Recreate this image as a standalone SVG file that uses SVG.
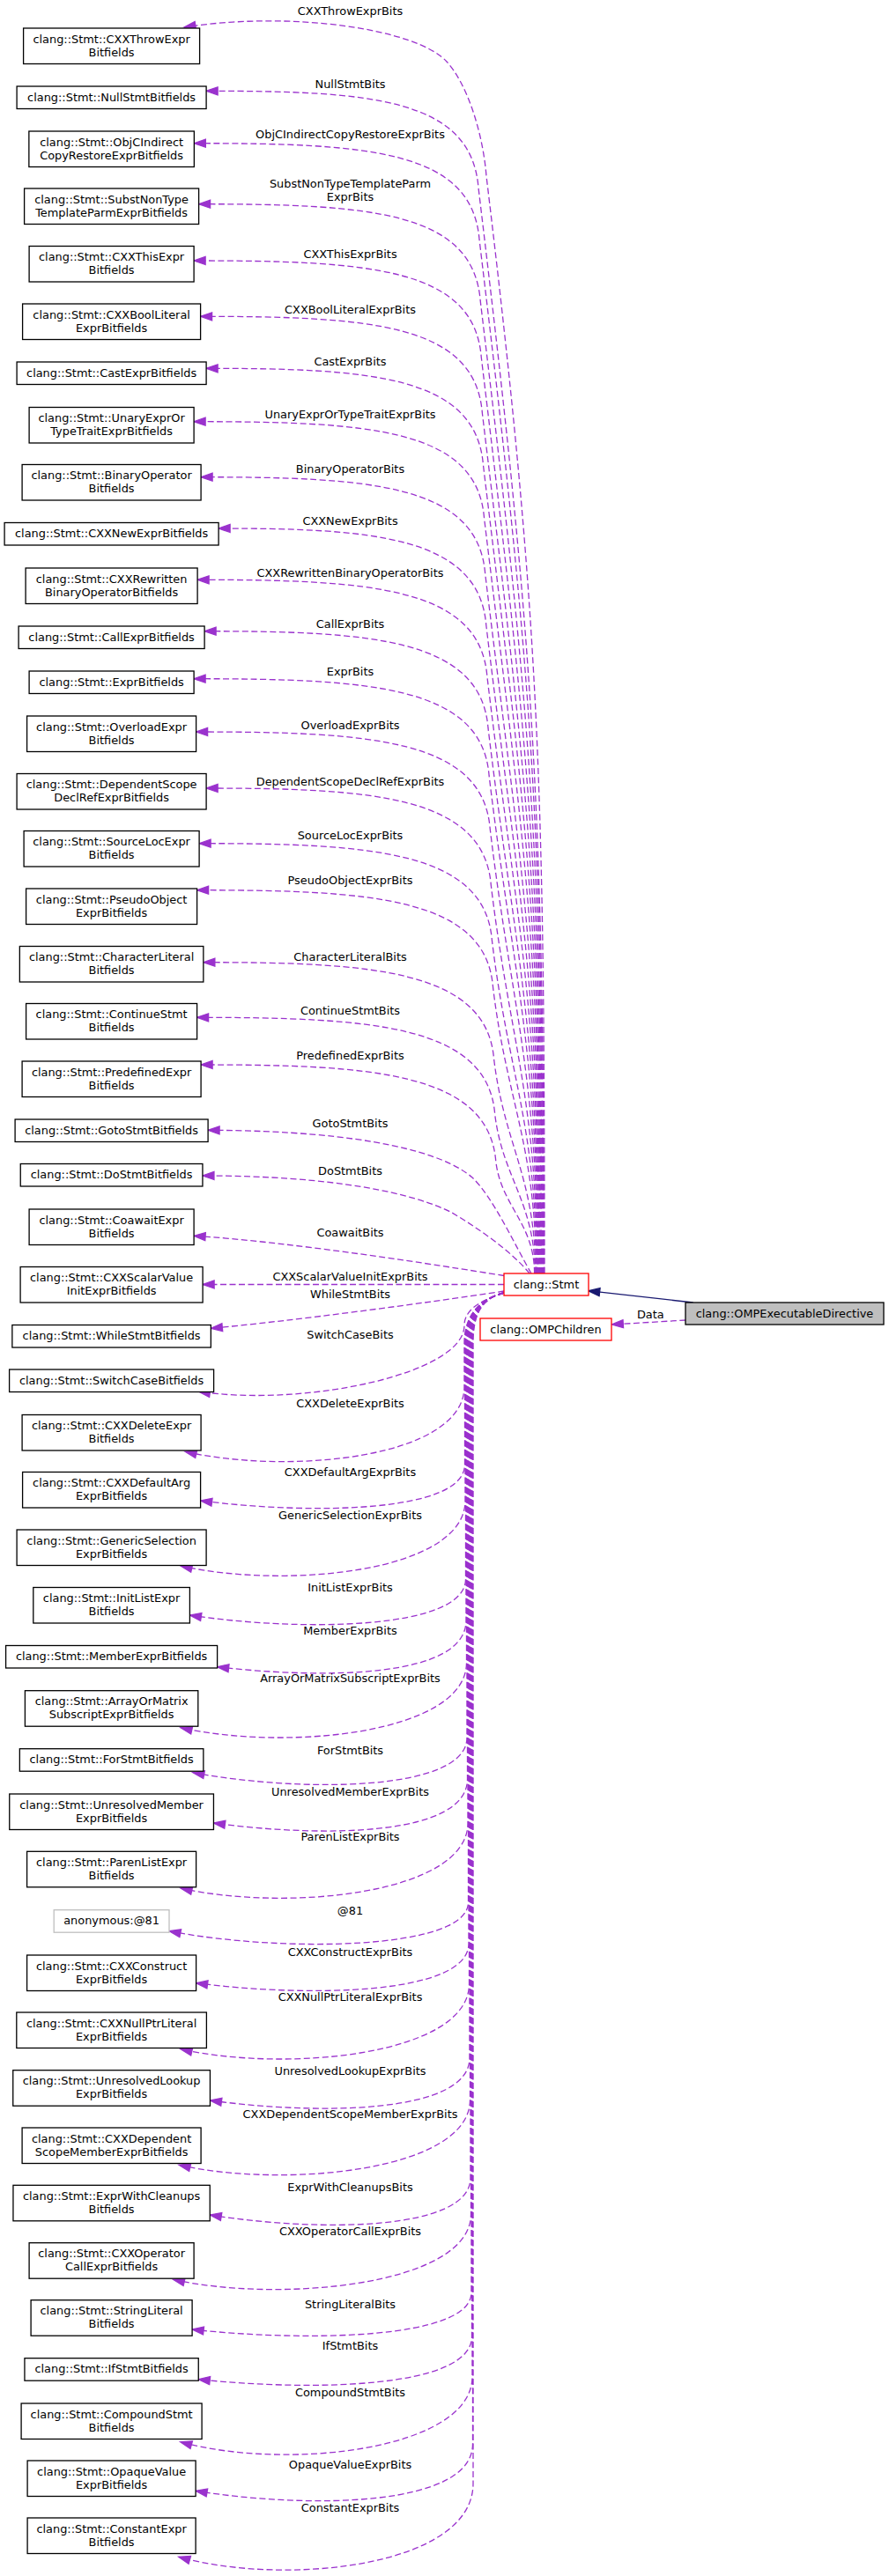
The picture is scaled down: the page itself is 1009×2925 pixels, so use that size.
<svg xmlns="http://www.w3.org/2000/svg" width="1009" height="2925" viewBox="0 0 1009 2925">
<style>
.n rect{fill:#fff;stroke:#000;stroke-width:1.3}
text{font-family:"DejaVu Sans",sans-serif;font-size:12.9px;text-anchor:middle;fill:#000}
.e path{fill:none;stroke:#9a32cd;stroke-width:1.3;stroke-dasharray:7,3.5;marker-end:url(#ap)}
</style>
<defs>
<marker id="ap" markerUnits="userSpaceOnUse" markerWidth="16" markerHeight="12" refX="13" refY="5" orient="auto" overflow="visible"><path d="M0,0.5 L13,5 L0,9.5 z" fill="#9a32cd" stroke="#9a32cd" stroke-width="1.3"/></marker>
<marker id="an" markerUnits="userSpaceOnUse" markerWidth="16" markerHeight="12" refX="13" refY="5" orient="auto" overflow="visible"><path d="M0,0.5 L13,5 L0,9.5 z" fill="#191970" stroke="#191970" stroke-width="1.3"/></marker>
</defs>
<rect x="0" y="0" width="1009" height="2925" fill="#fff"/>
<g id="edges">
<g class="e">
<path d="M618,1446 C618,885 612,698 552,200 C548,150 530,95 507,70 C472.5,32.5 330,12 209,31"/>
<path d="M617.4,1446 C617.4,891.3 602.2,706.4 543,213.3 C535,111.3 420,103.3 234.1,103.3"/>
<path d="M616.8,1446 C616.8,918 600.4,742 544.1,272.7 C536.1,170.7 420,162.7 220.35,162.7"/>
<path d="M616.2,1446 C616.2,949.1 598.2,783.4 545.2,341.7 C537.2,239.7 420,231.7 225.6,231.7"/>
<path d="M615.6,1446 C615.6,978 596.2,822 546.3,406 C538.3,304 420,296 220.1,296"/>
<path d="M615,1446 C615,1006.5 594.3,860 547.4,469.3 C539.4,367.3 420,359.3 227.6,359.3"/>
<path d="M614.4,1446 C614.4,1033 592.5,895.4 548.5,528.3 C540.5,426.3 420,418.3 234.1,418.3"/>
<path d="M613.8,1446 C613.8,1060.2 590.8,931.6 549.6,588.7 C541.6,486.7 420,478.7 220.1,478.7"/>
<path d="M613.2,1446 C613.2,1088.6 588.8,969.4 550.7,651.7 C542.7,549.7 420,541.7 228.1,541.7"/>
<path d="M612.6,1446 C612.6,1114.8 587.1,1004.4 551.8,710 C543.8,608 420,600 248.1,600"/>
<path d="M612,1446 C612,1141 585.4,1039.4 552.9,768.3 C544.9,666.3 420,658.3 224.1,658.3"/>
<path d="M611.4,1446 C611.4,1167.3 583.7,1074.4 554,826.7 C546,724.7 420,716.7 232.1,716.7"/>
<path d="M610.8,1446 C610.8,1191.6 582.2,1106.8 555.1,880.7 C547.1,778.7 420,770.7 220.1,770.7"/>
<path d="M610.2,1446 C610.2,1218.7 580.4,1143 556.2,941 C548.2,839 420,831 222.6,831"/>
<path d="M609.6,1446 C609.6,1247.5 578.5,1181.4 557.3,1005 C549.3,903 420,895 234.1,895"/>
<path d="M609,1446 C609,1275.8 576.6,1219 558.4,1067.7 C550.4,965.7 420,957.7 226.1,957.7"/>
<path d="M608.4,1446 C608.4,1299.6 575.1,1250.8 559.5,1120.7 C551.5,1018.7 420,1010.7 223.6,1010.7"/>
<path d="M607.8,1446 C607.8,1336.5 572.3,1300 560.6,1202.7 C552.6,1100.7 420,1092.7 230.85,1092.7"/>
<path d="M607.2,1446 C607.2,1364.7 570.4,1337.6 561.7,1265.3 C553.7,1163.3 420,1155.3 223.6,1155.3"/>
<path d="M606.6,1446 C606.6,1388.8 568.9,1369.8 562.8,1319 C554.8,1217 420,1209 228.1,1209"/>
<path d="M603,1446 C585,1415 560,1360 536,1337 C505,1310 420,1284 236.1,1283.3"/>
<path d="M601,1446 C580,1420 540,1393 513,1377 C470,1355 380,1335 229.95,1335"/>
<path d="M572,1448.5 C500,1437 330,1410 220.1,1403.3"/>
<path d="M572,1458.5 L230.1,1458.5"/>
<path d="M572,1466 C480,1480 330,1500 239.35,1508.3"/>
<path d="M572,1468 C540,1478 527,1490 527,1505 C527,1560 345,1598 225.4,1580"/>
<path d="M572,1468 C548,1474 527,1490 527,1525 L527,1574.3 C527,1655.3 330,1675.3 210,1648.3"/>
<path d="M572,1468 C548,1474 527.5,1490 527.5,1525 L527.5,1663 C527.5,1718 351.8,1720 227.6,1704"/>
<path d="M572,1468 C548,1474 528,1490 528,1525 L528,1704 C528,1785 325,1805 205,1778"/>
<path d="M572,1468 C548,1474 528.5,1490 528.5,1525 L528.5,1793 C528.5,1851 340.6,1853 215.4,1834"/>
<path d="M572,1468 C548,1474 529,1490 529,1525 L529,1840 C529,1905 371.4,1907 246.6,1892.7"/>
<path d="M572,1468 C548,1474 529.5,1490 529.5,1525 L529.5,1887.7 C529.5,1968.7 325,1988.7 205,1961.7"/>
<path d="M572,1468 C548,1474 530,1490 530,1525 L530,1973 C530,2034 344,2036 218.8,2012.7"/>
<path d="M572,1468 C548,1474 530.5,1490 530.5,1525 L530.5,2020 C530.5,2085 367.4,2087 242.45,2070"/>
<path d="M572,1468 C548,1474 531,1490 531,1525 L531,2070 C531,2151 325,2171 205,2144"/>
<path d="M572,1468 C548,1474 531.5,1490 531.5,1525 L531.5,2160 C531.5,2215 317,2217 192,2192.7"/>
<path d="M572,1468 C548,1474 532,1490 532,1525 L532,2206.7 C532,2266 347.3,2268 222.6,2251.7"/>
<path d="M572,1468 C548,1474 532.5,1490 532.5,1525 L532.5,2252.7 C532.5,2333.7 325,2353.7 205,2326.7"/>
<path d="M572,1468 C548,1474 533,1490 533,1525 L533,2336.7 C533,2400 363.4,2402 238.45,2385"/>
<path d="M572,1468 C548,1474 533.5,1490 533.5,1525 L533.5,2384.3 C533.5,2465.3 323,2485.3 203,2458.3"/>
<path d="M572,1468 C548,1474 534,1490 534,1525 L534,2473 C534,2533 363,2535 238.25,2515"/>
<path d="M572,1468 C548,1474 534.5,1490 534.5,1525 L534.5,2514.3 C534.5,2595.3 316.4,2615.3 196.4,2588.3"/>
<path d="M572,1468 C548,1474 535,1490 535,1525 L535,2603 C535,2657 343.3,2659 218.1,2645"/>
<path d="M572,1468 C548,1474 535.5,1490 535.5,1525 L535.5,2653 C535.5,2713 350,2715 225.25,2701.7"/>
<path d="M572,1468 C548,1474 536,1490 536,1525 L536,2698.7 C536,2782 324.7,2806 204.7,2772.7"/>
<path d="M572,1468 C548,1474 536.5,1490 536.5,1525 L536.5,2775 C536.5,2847 350,2849 222.1,2828.3"/>
<path d="M572,1468 C548,1474 537,1490 537,1525 L537,2820 C537,2915 322.8,2937 202.8,2903.3"/>
<path d="M778.3,1499 L694.3,1504"/>
</g>
<path d="M786.7,1479 L667.7,1465.7" fill="none" stroke="#191970" stroke-width="1.3" marker-end="url(#an)"/>
<g id="edge-labels">
<text x="397.5" y="16.5">CXXThrowExprBits</text>
<text x="397.5" y="100">NullStmtBits</text>
<text x="397.5" y="157">ObjCIndirectCopyRestoreExprBits</text>
<text x="397.5" y="212.7">SubstNonTypeTemplateParm</text>
<text x="397.5" y="227.7">ExprBits</text>
<text x="397.5" y="293.3">CXXThisExprBits</text>
<text x="397.5" y="356">CXXBoolLiteralExprBits</text>
<text x="397.5" y="415">CastExprBits</text>
<text x="397.5" y="475">UnaryExprOrTypeTraitExprBits</text>
<text x="397.5" y="537.3">BinaryOperatorBits</text>
<text x="397.5" y="596">CXXNewExprBits</text>
<text x="397.5" y="655">CXXRewrittenBinaryOperatorBits</text>
<text x="397.5" y="712.7">CallExprBits</text>
<text x="397.5" y="766.7">ExprBits</text>
<text x="397.5" y="827.7">OverloadExprBits</text>
<text x="397.5" y="891.7">DependentScopeDeclRefExprBits</text>
<text x="397.5" y="952.7">SourceLocExprBits</text>
<text x="397.5" y="1004.3">PseudoObjectExprBits</text>
<text x="397.5" y="1090.7">CharacterLiteralBits</text>
<text x="397.5" y="1151.7">ContinueStmtBits</text>
<text x="397.5" y="1203.3">PredefinedExprBits</text>
<text x="397.5" y="1280">GotoStmtBits</text>
<text x="397.5" y="1334">DoStmtBits</text>
<text x="397.5" y="1404">CoawaitBits</text>
<text x="397.5" y="1454.3">CXXScalarValueInitExprBits</text>
<text x="397.5" y="1474">WhileStmtBits</text>
<text x="397.5" y="1520">SwitchCaseBits</text>
<text x="397.5" y="1598.3">CXXDeleteExprBits</text>
<text x="397.5" y="1676">CXXDefaultArgExprBits</text>
<text x="397.5" y="1725">GenericSelectionExprBits</text>
<text x="397.5" y="1807.3">InitListExprBits</text>
<text x="397.5" y="1856">MemberExprBits</text>
<text x="397.5" y="1910">ArrayOrMatrixSubscriptExprBits</text>
<text x="397.5" y="1992">ForStmtBits</text>
<text x="397.5" y="2039.3">UnresolvedMemberExprBits</text>
<text x="397.5" y="2090">ParenListExprBits</text>
<text x="397.5" y="2174.3">@81</text>
<text x="397.5" y="2220.7">CXXConstructExprBits</text>
<text x="397.5" y="2271.7">CXXNullPtrLiteralExprBits</text>
<text x="397.5" y="2355.7">UnresolvedLookupExprBits</text>
<text x="397.5" y="2405">CXXDependentScopeMemberExprBits</text>
<text x="397.5" y="2488.3">ExprWithCleanupsBits</text>
<text x="397.5" y="2538.3">CXXOperatorCallExprBits</text>
<text x="397.5" y="2620.7">StringLiteralBits</text>
<text x="397.5" y="2668.3">IfStmtBits</text>
<text x="397.5" y="2720.7">CompoundStmtBits</text>
<text x="397.5" y="2803.3">OpaqueValueExprBits</text>
<text x="397.5" y="2851.7">ConstantExprBits</text>
<text x="738.3" y="1496.5">Data</text>
</g>
</g>
<g id="node-OMPExecutableDirective" class="n"><rect x="778" y="1479" width="225" height="25" style="fill:#bfbfbf"/><text x="890.5" y="1495.6">clang::OMPExecutableDirective</text></g>
<g id="node-Stmt" class="n"><rect x="572" y="1446" width="96" height="25" style="stroke:#ff0000"/><text x="620" y="1462.6">clang::Stmt</text></g>
<g id="node-OMPChildren" class="n"><rect x="545" y="1497" width="149" height="25" style="stroke:#ff0000"/><text x="619.5" y="1513.6">clang::OMPChildren</text></g>
<g id="node1" class="n"><rect x="26.6" y="32" width="200" height="40.5"/><text x="126.6" y="48.6">clang::Stmt::CXXThrowExpr</text><text x="126.6" y="63.5">Bitfields</text></g>
<g id="node2" class="n"><rect x="19.1" y="98" width="215" height="25.5"/><text x="126.6" y="114.6">clang::Stmt::NullStmtBitfields</text></g>
<g id="node3" class="n"><rect x="32.85" y="149" width="187.5" height="40.5"/><text x="126.6" y="165.6">clang::Stmt::ObjCIndirect</text><text x="126.6" y="180.5">CopyRestoreExprBitfields</text></g>
<g id="node4" class="n"><rect x="27.6" y="214" width="198" height="40.5"/><text x="126.6" y="230.6">clang::Stmt::SubstNonType</text><text x="126.6" y="245.5">TemplateParmExprBitfields</text></g>
<g id="node5" class="n"><rect x="33.1" y="279.5" width="187" height="40.5"/><text x="126.6" y="296.1">clang::Stmt::CXXThisExpr</text><text x="126.6" y="311">Bitfields</text></g>
<g id="node6" class="n"><rect x="25.6" y="345" width="202" height="40.5"/><text x="126.6" y="361.6">clang::Stmt::CXXBoolLiteral</text><text x="126.6" y="376.5">ExprBitfields</text></g>
<g id="node7" class="n"><rect x="19.1" y="411" width="215" height="25.5"/><text x="126.6" y="427.6">clang::Stmt::CastExprBitfields</text></g>
<g id="node8" class="n"><rect x="33.1" y="462.5" width="187" height="40.5"/><text x="126.6" y="479.1">clang::Stmt::UnaryExprOr</text><text x="126.6" y="494">TypeTraitExprBitfields</text></g>
<g id="node9" class="n"><rect x="25.1" y="527.5" width="203" height="40.5"/><text x="126.6" y="544.1">clang::Stmt::BinaryOperator</text><text x="126.6" y="559">Bitfields</text></g>
<g id="node10" class="n"><rect x="5.1" y="593.5" width="243" height="25.5"/><text x="126.6" y="610.1">clang::Stmt::CXXNewExprBitfields</text></g>
<g id="node11" class="n"><rect x="29.1" y="645" width="195" height="40.5"/><text x="126.6" y="661.6">clang::Stmt::CXXRewritten</text><text x="126.6" y="676.5">BinaryOperatorBitfields</text></g>
<g id="node12" class="n"><rect x="21.1" y="711" width="211" height="25.5"/><text x="126.6" y="727.6">clang::Stmt::CallExprBitfields</text></g>
<g id="node13" class="n"><rect x="33.1" y="762" width="187" height="25.5"/><text x="126.6" y="778.6">clang::Stmt::ExprBitfields</text></g>
<g id="node14" class="n"><rect x="30.6" y="813" width="192" height="40.5"/><text x="126.6" y="829.6">clang::Stmt::OverloadExpr</text><text x="126.6" y="844.5">Bitfields</text></g>
<g id="node15" class="n"><rect x="19.1" y="878.5" width="215" height="40.5"/><text x="126.6" y="895.1">clang::Stmt::DependentScope</text><text x="126.6" y="910">DeclRefExprBitfields</text></g>
<g id="node16" class="n"><rect x="27.1" y="943.5" width="199" height="40.5"/><text x="126.6" y="960.1">clang::Stmt::SourceLocExpr</text><text x="126.6" y="975">Bitfields</text></g>
<g id="node17" class="n"><rect x="29.6" y="1009" width="194" height="40.5"/><text x="126.6" y="1025.6">clang::Stmt::PseudoObject</text><text x="126.6" y="1040.5">ExprBitfields</text></g>
<g id="node18" class="n"><rect x="22.35" y="1074.5" width="208.5" height="40.5"/><text x="126.6" y="1091.1">clang::Stmt::CharacterLiteral</text><text x="126.6" y="1106">Bitfields</text></g>
<g id="node19" class="n"><rect x="29.6" y="1139.5" width="194" height="40.5"/><text x="126.6" y="1156.1">clang::Stmt::ContinueStmt</text><text x="126.6" y="1171">Bitfields</text></g>
<g id="node20" class="n"><rect x="25.1" y="1205" width="203" height="40.5"/><text x="126.6" y="1221.6">clang::Stmt::PredefinedExpr</text><text x="126.6" y="1236.5">Bitfields</text></g>
<g id="node21" class="n"><rect x="17.1" y="1271" width="219" height="25.5"/><text x="126.6" y="1287.6">clang::Stmt::GotoStmtBitfields</text></g>
<g id="node22" class="n"><rect x="23.25" y="1321.5" width="206.7" height="25.5"/><text x="126.6" y="1338.1">clang::Stmt::DoStmtBitfields</text></g>
<g id="node23" class="n"><rect x="33.1" y="1373" width="187" height="40.5"/><text x="126.6" y="1389.6">clang::Stmt::CoawaitExpr</text><text x="126.6" y="1404.5">Bitfields</text></g>
<g id="node24" class="n"><rect x="23.1" y="1438.5" width="207" height="40.5"/><text x="126.6" y="1455.1">clang::Stmt::CXXScalarValue</text><text x="126.6" y="1470">InitExprBitfields</text></g>
<g id="node25" class="n"><rect x="13.85" y="1504.5" width="225.5" height="25.5"/><text x="126.6" y="1521.1">clang::Stmt::WhileStmtBitfields</text></g>
<g id="node26" class="n"><rect x="10.6" y="1555" width="232" height="25.5"/><text x="126.6" y="1571.6">clang::Stmt::SwitchCaseBitfields</text></g>
<g id="node27" class="n"><rect x="25.1" y="1606.5" width="203" height="40.5"/><text x="126.6" y="1623.1">clang::Stmt::CXXDeleteExpr</text><text x="126.6" y="1638">Bitfields</text></g>
<g id="node28" class="n"><rect x="25.6" y="1671.5" width="202" height="40.5"/><text x="126.6" y="1688.1">clang::Stmt::CXXDefaultArg</text><text x="126.6" y="1703">ExprBitfields</text></g>
<g id="node29" class="n"><rect x="19.1" y="1737" width="215" height="40.5"/><text x="126.6" y="1753.6">clang::Stmt::GenericSelection</text><text x="126.6" y="1768.5">ExprBitfields</text></g>
<g id="node30" class="n"><rect x="37.8" y="1802.5" width="177.6" height="40.5"/><text x="126.6" y="1819.1">clang::Stmt::InitListExpr</text><text x="126.6" y="1834">Bitfields</text></g>
<g id="node31" class="n"><rect x="6.6" y="1868.5" width="240" height="25.5"/><text x="126.6" y="1885.1">clang::Stmt::MemberExprBitfields</text></g>
<g id="node32" class="n"><rect x="28.4" y="1919.7" width="196.4" height="40.5"/><text x="126.6" y="1936.3">clang::Stmt::ArrayOrMatrix</text><text x="126.6" y="1951.2">SubscriptExprBitfields</text></g>
<g id="node33" class="n"><rect x="22.35" y="1985.7" width="208.5" height="25.5"/><text x="126.6" y="2002.3">clang::Stmt::ForStmtBitfields</text></g>
<g id="node34" class="n"><rect x="10.75" y="2037" width="231.7" height="40.5"/><text x="126.6" y="2053.6">clang::Stmt::UnresolvedMember</text><text x="126.6" y="2068.5">ExprBitfields</text></g>
<g id="node35" class="n"><rect x="30.6" y="2102.3" width="192" height="40.5"/><text x="126.6" y="2118.9">clang::Stmt::ParenListExpr</text><text x="126.6" y="2133.8">Bitfields</text></g>
<g id="node36" class="n"><rect x="61.2" y="2168.7" width="130.8" height="25.5" style="stroke:#bfbfbf"/><text x="126.6" y="2185.3">anonymous:@81</text></g>
<g id="node37" class="n"><rect x="30.6" y="2220" width="192" height="40.5"/><text x="126.6" y="2236.6">clang::Stmt::CXXConstruct</text><text x="126.6" y="2251.5">ExprBitfields</text></g>
<g id="node38" class="n"><rect x="18.8" y="2285" width="215.6" height="40.5"/><text x="126.6" y="2301.6">clang::Stmt::CXXNullPtrLiteral</text><text x="126.6" y="2316.5">ExprBitfields</text></g>
<g id="node39" class="n"><rect x="14.75" y="2350.7" width="223.7" height="40.5"/><text x="126.6" y="2367.3">clang::Stmt::UnresolvedLookup</text><text x="126.6" y="2382.2">ExprBitfields</text></g>
<g id="node40" class="n"><rect x="25.1" y="2416" width="203" height="40.5"/><text x="126.6" y="2432.6">clang::Stmt::CXXDependent</text><text x="126.6" y="2447.5">ScopeMemberExprBitfields</text></g>
<g id="node41" class="n"><rect x="14.95" y="2481.3" width="223.3" height="40.5"/><text x="126.6" y="2497.9">clang::Stmt::ExprWithCleanups</text><text x="126.6" y="2512.8">Bitfields</text></g>
<g id="node42" class="n"><rect x="33.1" y="2546.7" width="187" height="40.5"/><text x="126.6" y="2563.3">clang::Stmt::CXXOperator</text><text x="126.6" y="2578.2">CallExprBitfields</text></g>
<g id="node43" class="n"><rect x="35.1" y="2611.7" width="183" height="40.5"/><text x="126.6" y="2628.3">clang::Stmt::StringLiteral</text><text x="126.6" y="2643.2">Bitfields</text></g>
<g id="node44" class="n"><rect x="27.95" y="2677.7" width="197.3" height="25.5"/><text x="126.6" y="2694.3">clang::Stmt::IfStmtBitfields</text></g>
<g id="node45" class="n"><rect x="24.1" y="2729" width="205" height="40.5"/><text x="126.6" y="2745.6">clang::Stmt::CompoundStmt</text><text x="126.6" y="2760.5">Bitfields</text></g>
<g id="node46" class="n"><rect x="31.1" y="2794" width="191" height="40.5"/><text x="126.6" y="2810.6">clang::Stmt::OpaqueValue</text><text x="126.6" y="2825.5">ExprBitfields</text></g>
<g id="node47" class="n"><rect x="31.1" y="2859" width="191" height="40.5"/><text x="126.6" y="2875.6">clang::Stmt::ConstantExpr</text><text x="126.6" y="2890.5">Bitfields</text></g>
</svg>
